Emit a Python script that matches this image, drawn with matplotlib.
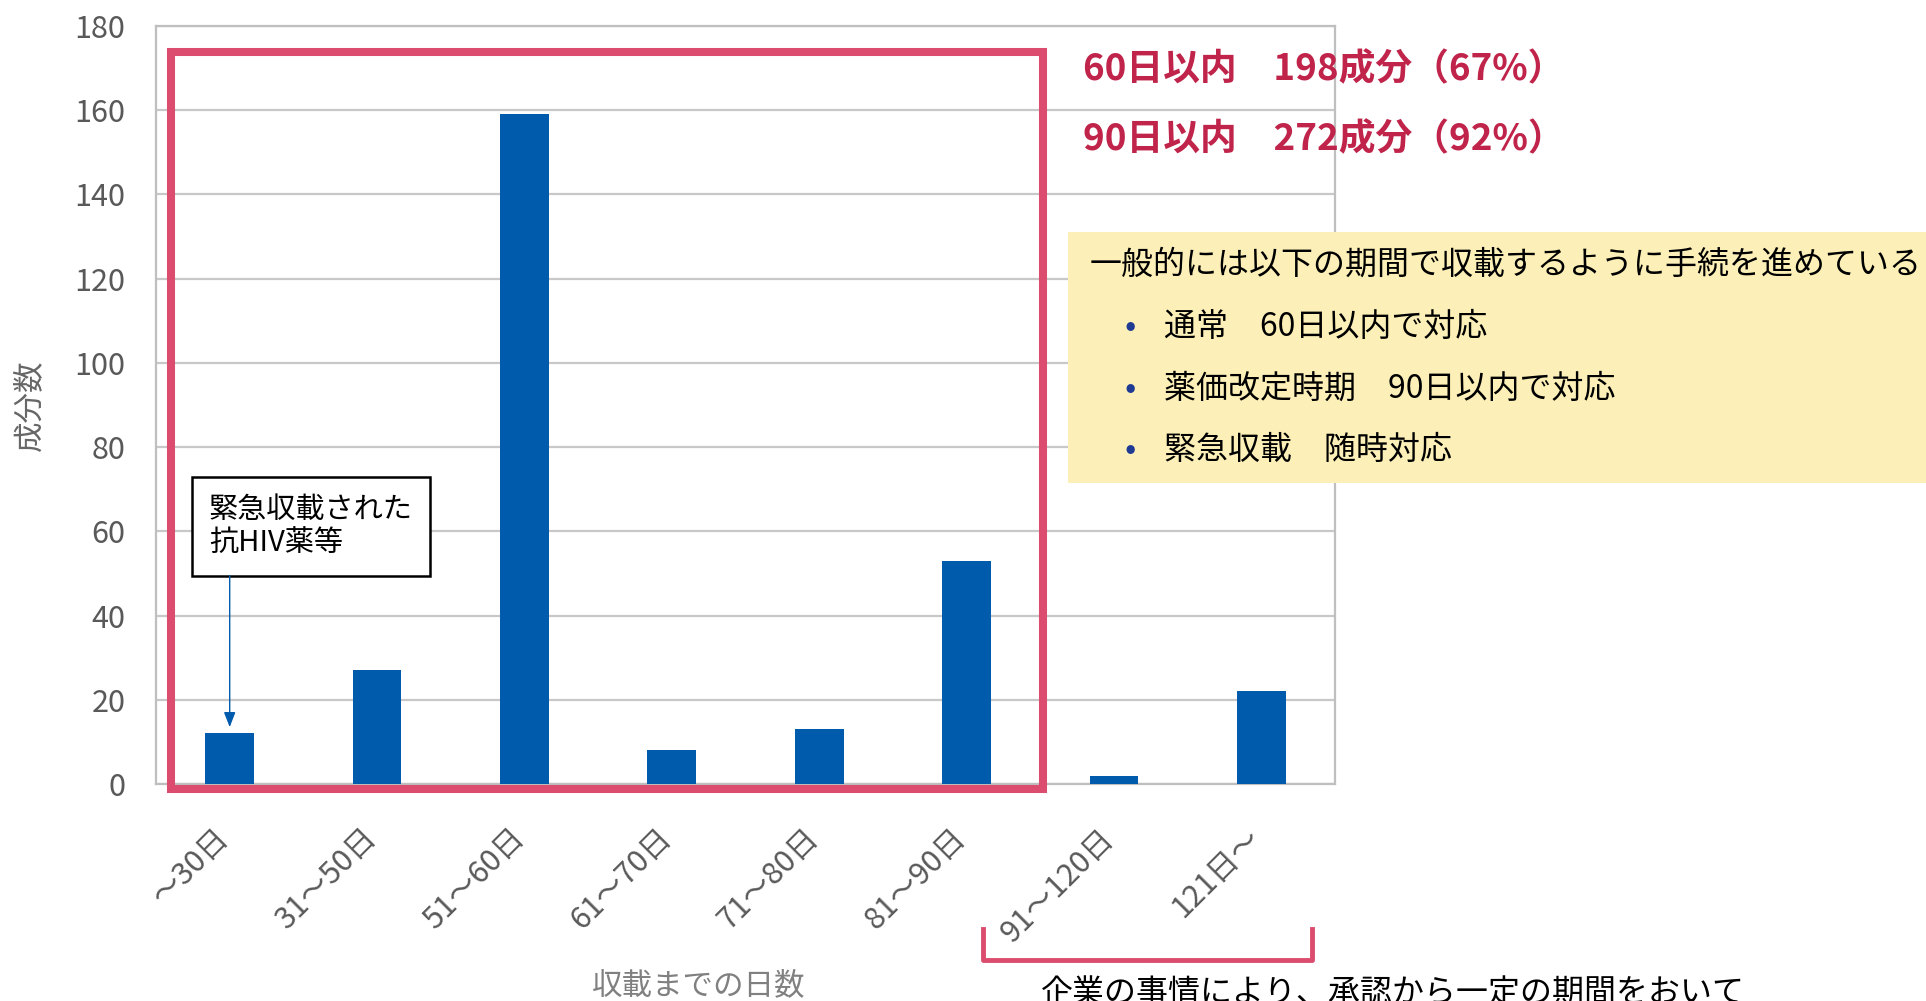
import matplotlib
matplotlib.use('Agg')
import matplotlib.pyplot as plt
import matplotlib.transforms as mtransforms
from matplotlib.patches import Rectangle
from matplotlib.lines import Line2D

plt.rcParams['font.family'] = ['Noto Sans CJK JP', 'DejaVu Sans']

# data
categories = ['～30日', '31～50日', '51～60日', '61～70日', '71～80日', '81～90日', '91～120日', '121日～']
counts = [12, 27, 159, 8, 13, 53, 2, 22]

summary_lines = ['60日以内　198成分（67%）', '90日以内　272成分（92%）']
note_title = '一般的には以下の期間で収載するように手続を進めている'
note_items = ['通常　60日以内で対応', '薬価改定時期　90日以内で対応', '緊急収載　随時対応']
callout_text = '緊急収載された\n抗HIV薬等'
bottom_note = '企業の事情により、承認から一定の期間をおいて'

W, H = 1926, 1001
fig = plt.figure(figsize=(W / 100, H / 100), dpi=100)


def fx(px):
    return px / W


def fy(py):
    return 1 - py / H


ax = fig.add_axes([fx(156), fy(784), fx(1335) - fx(156), fy(26) - fy(784)])

bar_color = '#005BAC'
pink = '#DC4C6E'
red_text = '#C0244A'
grey = '#595959'

x = list(range(len(categories)))
ax.bar(x, counts, width=0.33, color=bar_color, zorder=3)

ax.set_xlim(-0.5, len(categories) - 0.5)
ax.set_ylim(0, 180)
ax.set_yticks(range(0, 181, 20))
ax.set_xticks(x)
ax.set_xticklabels(categories, rotation=45, ha='right', va='top')
ax.tick_params(axis='x', length=0, pad=28, labelsize=22, labelcolor=grey)
ax.tick_params(axis='y', length=0, pad=22, labelsize=22, labelcolor=grey)
# nudge rotated labels slightly right, like the original
shift = mtransforms.ScaledTranslation(6 / 100, 0, fig.dpi_scale_trans)
for lab in ax.get_xticklabels():
    lab.set_transform(lab.get_transform() + shift)
ax.grid(axis='y', color='#C8C8C8', lw=1.6, zorder=0)
ax.set_axisbelow(True)
for s in ax.spines.values():
    s.set_color('#BFBFBF')
    s.set_linewidth(1.6)

ax.set_ylabel('成分数', fontsize=22, color='#666666')
ax.yaxis.set_label_coords(-0.094, 0.5)
ax.set_xlabel('収載までの日数', fontsize=22, color='#808080')
ax.xaxis.set_label_coords(0.46, -0.245)

# pink frame around first six categories
rect = Rectangle((-0.398, -1.2), 5.917, 175.1, fill=False, edgecolor=pink,
                 lw=5.8, clip_on=False, zorder=5)
ax.add_patch(rect)

# callout for emergency listing
ax.text(-0.14, 61.2, callout_text, fontsize=21, color='black', va='center', ha='left',
        linespacing=1.15, zorder=6,
        bbox=dict(boxstyle='square,pad=0.6', fc='white', ec='black', lw=1.8))
ax.annotate('', xy=(0, 13.5), xytext=(0, 49.5),
            arrowprops=dict(arrowstyle='-|>,head_length=0.9,head_width=0.35',
                            color=bar_color, lw=1.0, shrinkA=0, shrinkB=0), zorder=6)

# red summary text
for i, line in enumerate(summary_lines):
    fig.text(fx(1083), fy(70 + i * 70), line, fontsize=26.5, fontweight='bold',
             color=red_text, va='center', ha='left')

# yellow note box
fig.patches.append(Rectangle((fx(1068), fy(483)), 1 - fx(1068), fy(232) - fy(483),
                             transform=fig.transFigure, fc='#FCF0B8', ec='none', zorder=2))
fig.text(fx(1090), fy(265), note_title, fontsize=23, color='black', va='center', ha='left')
for i, item in enumerate(note_items):
    yy = fy(327 + i * 61.5)
    fig.text(fx(1130), yy, '•', fontsize=24, color='#1F3A93', va='center', ha='center')
    fig.text(fx(1164), yy, item, fontsize=23, color='black', va='center', ha='left')

# bracket under 91+ categories
fig.lines.append(Line2D([fx(983), fx(983), fx(1312), fx(1312)],
                        [fy(929), fy(960), fy(960), fy(929)],
                        transform=fig.transFigure, color=pink, lw=3.5))
fig.text(fx(1041), fy(978), bottom_note, fontsize=23, color='black', va='top', ha='left')

fig.savefig('out.png', dpi=100)
